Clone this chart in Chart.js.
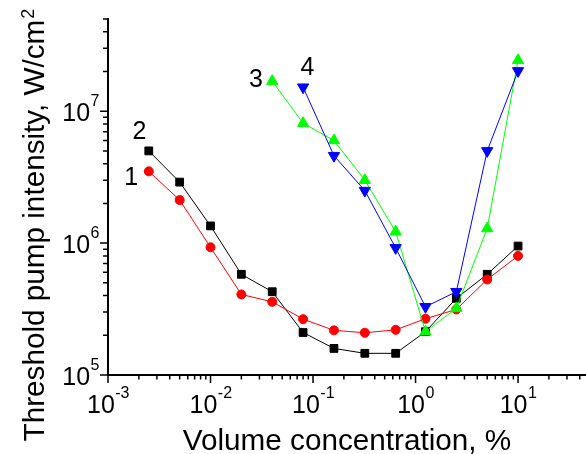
<!DOCTYPE html>
<html>
<head>
<meta charset="utf-8">
<script src="https://cdn.jsdelivr.net/npm/chart.js@4"></script>
<style>
html,body{margin:0;padding:0;background:#fff;}
#c{display:block;}
</style>
</head>
<body>
<canvas id="c" width="586" height="454"></canvas>
<script>
// ---- data ----
const conc12 = [0.0025, 0.005, 0.01, 0.02, 0.04, 0.08, 0.16, 0.32, 0.64, 1.25, 2.5, 5, 10];
const series1 = [3.5e6, 2.12e6, 9.3e5, 4.08e5, 3.59e5, 2.65e5, 2.18e5, 2.09e5, 2.2e5, 2.67e5, 3.14e5, 5.3e5, 8.0e5];
const series2 = [5.0e6, 2.9e6, 1.35e6, 5.8e5, 4.28e5, 2.1e5, 1.59e5, 1.46e5, 1.46e5, 2.13e5, 3.81e5, 5.8e5, 9.5e5];
const conc3 = [0.04, 0.08, 0.16, 0.32, 0.64, 1.25, 2.5, 5, 10];
const series3 = [1.69e7, 8.1e6, 6.0e6, 3.0e6, 1.22e6, 2.13e5, 3.2e5, 1.29e6, 2.43e7];
const conc4 = [0.08, 0.16, 0.32, 0.64, 1.25, 2.5, 5, 10];
const series4 = [1.52e7, 4.6e6, 2.5e6, 9.2e5, 3.29e5, 4.28e5, 5.0e6, 2.02e7];

const xTickExps = [-3, -2, -1, 0, 1];
const yTickExps = [5, 6, 7];

const curveLabels = ['1', '2', '3', '4'];
const curveLabelX = [0.00168, 0.00203, 0.0278, 0.0883];
const curveLabelY = [3.16e6, 7.05e6, 1.75e7, 2.17e7];

const xTitle = 'Volume concentration, %';
const yTitle = 'Threshold pump intensity, W/cm';
const yTitleSup = '2';

const X_MIN = 0.001, X_MAX = 46, Y_MIN = 1e5, Y_MAX = 5e7;

function pts(xs, ys) { return xs.map((x, i) => ({x: x, y: ys[i]})); }

const FONT = '"Liberation Sans", Arial, sans-serif';

const axesPlugin = {
  id: 'axesPlugin',
  afterDraw(chart) {
    const ctx = chart.ctx;
    const xs = chart.scales.x, ys = chart.scales.y;
    const left = xs.getPixelForValue(X_MIN);
    const right = xs.getPixelForValue(X_MAX);
    const bottom = ys.getPixelForValue(Y_MIN);
    const top = ys.getPixelForValue(Y_MAX);
    ctx.save();
    ctx.strokeStyle = '#000';
    ctx.fillStyle = '#000';
    // axis lines
    ctx.lineWidth = 2;
    ctx.beginPath();
    ctx.moveTo(left, top - 1); ctx.lineTo(left, bottom + 1);
    ctx.moveTo(left - 1, bottom); ctx.lineTo(right, bottom);
    ctx.stroke();
    // ticks
    ctx.lineWidth = 1.5;
    ctx.beginPath();
    for (let e = -3; e <= 1; e++) {
      for (let m = 1; m <= 9; m++) {
        const v = m * Math.pow(10, e);
        if (v > X_MAX * 1.0001) continue;
        const px = xs.getPixelForValue(v);
        const len = m === 1 ? 8 : 4.5;
        ctx.moveTo(px, bottom); ctx.lineTo(px, bottom + len);
      }
    }
    for (let e = 5; e <= 7; e++) {
      for (let m = 1; m <= 9; m++) {
        const v = m * Math.pow(10, e);
        if (v > Y_MAX * 1.0001) continue;
        const py = ys.getPixelForValue(v);
        const len = m === 1 ? 8 : 5;
        ctx.moveTo(left, py); ctx.lineTo(left - len, py);
      }
    }
    ctx.stroke();
    // tick labels
    const baseFont = '25px ' + FONT;
    const supFont = '16px ' + FONT;
    ctx.textBaseline = 'alphabetic';
    ctx.textAlign = 'left';
    xTickExps.forEach(e => {
      const px = xs.getPixelForValue(Math.pow(10, e));
      ctx.font = baseFont; const w1 = ctx.measureText('10').width;
      ctx.font = supFont; const sup = String(e); const w2 = ctx.measureText(sup).width;
      const x0 = px - (w1 + w2) / 2;
      ctx.font = baseFont; ctx.fillText('10', x0, 413);
      ctx.font = supFont; ctx.fillText(sup, x0 + w1 + 0.5, 397.5);
    });
    yTickExps.forEach(e => {
      const py = ys.getPixelForValue(Math.pow(10, e));
      ctx.font = baseFont; const w1 = ctx.measureText('10').width;
      ctx.font = supFont; const sup = String(e); const w2 = ctx.measureText(sup).width;
      const x0 = 99 - (w1 + w2);
      ctx.font = baseFont; ctx.fillText('10', x0, py + 10.3);
      ctx.font = supFont; ctx.fillText(sup, x0 + w1 + 0.5, py - 4.7);
    });
    // axis titles
    ctx.font = '29.7px ' + FONT;
    ctx.textAlign = 'center';
    ctx.fillText(xTitle, (left + right) / 2, 450);
    ctx.save();
    ctx.translate(43.5, 441.5);
    ctx.rotate(-Math.PI / 2);
    ctx.textAlign = 'left';
    ctx.font = '29.7px ' + FONT;
    ctx.fillText(yTitle, 0, 0);
    const tw = ctx.measureText(yTitle).width;
    ctx.font = '18px ' + FONT;
    ctx.fillText(yTitleSup, tw + 1, -10);
    ctx.restore();
    // curve labels
    ctx.font = '25px ' + FONT;
    ctx.textAlign = 'center';
    ctx.textBaseline = 'middle';
    curveLabels.forEach((t, i) => {
      ctx.fillText(t, xs.getPixelForValue(curveLabelX[i]), ys.getPixelForValue(curveLabelY[i]) + 1);
    });
    ctx.restore();
  }
};

new Chart(document.getElementById('c'), {
  type: 'line',
  data: {
    datasets: [
      {label: '4', data: pts(conc4, series4), borderColor: '#0000ff', backgroundColor: '#0000ff',
       pointStyle: 'triangle', pointRotation: 180, pointRadius: 6.5, pointBorderWidth: 1, borderWidth: 1},
      {label: '3', data: pts(conc3, series3), borderColor: '#00ff00', backgroundColor: '#00ff00',
       pointStyle: 'triangle', pointRadius: 6.5, pointBorderWidth: 1, borderWidth: 1},
      {label: '1', data: pts(conc12, series1), borderColor: '#ff0000', backgroundColor: '#ff0000',
       pointStyle: 'circle', pointRadius: 4.5, pointBorderWidth: 1, borderWidth: 1},
      {label: '2', data: pts(conc12, series2), borderColor: '#000000', backgroundColor: '#000000',
       pointStyle: 'rect', pointRadius: 5.5, pointBorderWidth: 1, borderWidth: 1}
    ]
  },
  options: {
    responsive: false,
    animation: false,
    devicePixelRatio: 1,
    layout: {autoPadding: false, padding: {left: 108, top: 19, right: 0, bottom: 79}},
    plugins: {legend: {display: false}, tooltip: {enabled: false}},
    elements: {line: {tension: 0, fill: false}},
    scales: {
      x: {type: 'logarithmic', min: X_MIN, max: X_MAX, display: false},
      y: {type: 'logarithmic', min: Y_MIN, max: Y_MAX, display: false}
    }
  },
  plugins: [axesPlugin]
});
</script>
</body>
</html>
